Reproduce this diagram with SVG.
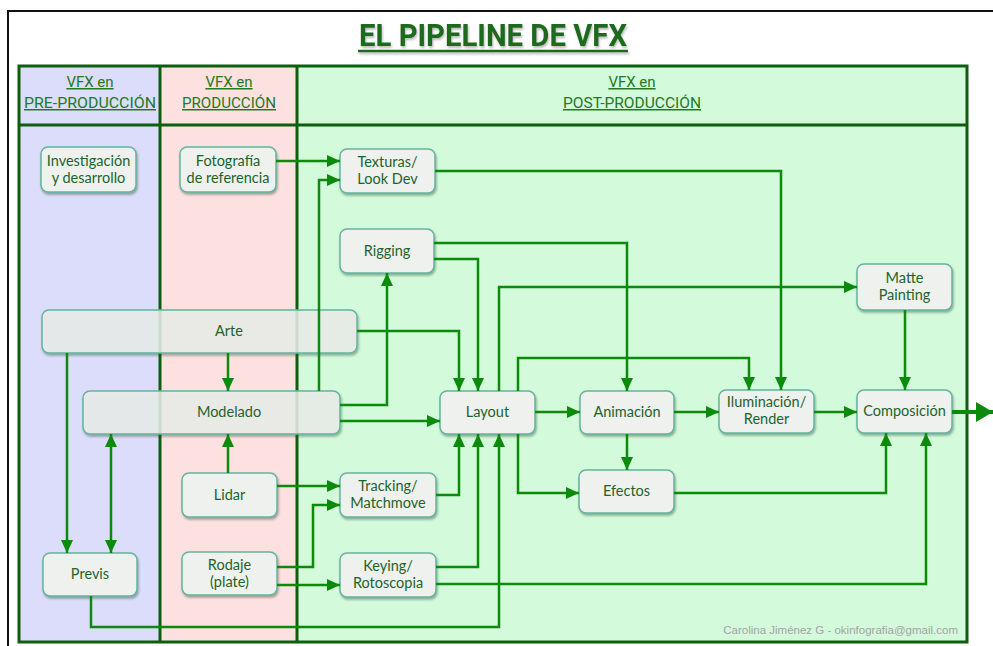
<svg xmlns="http://www.w3.org/2000/svg" width="993" height="646" viewBox="0 0 993 646">
<defs>
<style>
.node rect{fill:#eef1ee;stroke:#62b59c;stroke-width:1.5;filter:url(#sh)}
.node.tr rect{fill-opacity:0.82}
.node text{font-family:Lato,"Open Sans",sans-serif;font-size:14.5px;fill:#1d642b;text-anchor:middle}
.hd{font-family:"Liberation Sans Narrow","Roboto",sans-serif;font-size:15px;fill:#237a23;text-anchor:middle;text-decoration:underline}
#connectors path{fill:none;stroke:#0b8a0b;stroke-width:2.5;marker-end:url(#ah)}
.col{stroke:#0d5f0d;stroke-width:3}
</style>
<marker id="ah" markerUnits="userSpaceOnUse" markerWidth="14" markerHeight="12" refX="13" refY="6" orient="auto-start-reverse"><path d="M0,0 L13,6 L0,12 z" fill="#0b8a0b"/></marker>
<marker id="ahb" markerUnits="userSpaceOnUse" markerWidth="18" markerHeight="20" refX="17" refY="10" orient="auto"><path d="M0,0 L17,10 L0,20 z" fill="#0b8a0b"/></marker>
<filter id="sh" x="-10%" y="-10%" width="130%" height="140%"><feDropShadow dx="1" dy="2" stdDeviation="1.2" flood-color="#2a4a3a" flood-opacity="0.45"/></filter>
<filter id="tsh" x="-5%" y="-20%" width="110%" height="150%"><feDropShadow dx="1" dy="2" stdDeviation="1" flood-color="#777" flood-opacity="0.5"/></filter>
</defs>
<rect x="0" y="0" width="993" height="646" fill="#fff"/>
<rect x="8" y="11" width="1000" height="650" fill="#fff" stroke="#111" stroke-width="2"/>
<g id="title" filter="url(#tsh)">
<text x="493" y="46" font-family="'Liberation Sans Narrow',Roboto,sans-serif" font-weight="bold" font-size="31" fill="#1a6b1a" text-anchor="middle" textLength="268" lengthAdjust="spacingAndGlyphs">EL PIPELINE DE VFX</text>
<line x1="358" y1="51" x2="628" y2="51" stroke="#1a6b1a" stroke-width="2.5"/>
</g>
<g id="columns">
<rect x="19" y="66" width="141" height="576" fill="#dcdcfb"/>
<rect x="160" y="66" width="137" height="576" fill="#fde0e0"/>
<rect x="297" y="66" width="670" height="576" fill="#d3fadb"/>
<rect x="19" y="66" width="948" height="576" fill="none" class="col"/>
<line x1="19" y1="125" x2="967" y2="125" class="col"/>
<line x1="160" y1="66" x2="160" y2="642" class="col"/>
<line x1="297" y1="66" x2="297" y2="642" class="col"/>
<text class="hd" x="90" y="87">VFX en</text>
<text class="hd" x="90" y="108" textLength="132" lengthAdjust="spacingAndGlyphs">PRE-PRODUCCIÓN</text>
<text class="hd" x="229" y="87">VFX en</text>
<text class="hd" x="229" y="108" textLength="94" lengthAdjust="spacingAndGlyphs">PRODUCCIÓN</text>
<text class="hd" x="632" y="87">VFX en</text>
<text class="hd" x="632" y="108" textLength="138" lengthAdjust="spacingAndGlyphs">POST-PRODUCCIÓN</text>
</g>
<g id="investigacion" class="node"><rect x="41" y="147" width="95" height="45" rx="7"/><text x="88.5" y="166">Investigación<tspan x="88.5" dy="17">y desarrollo</tspan></text></g>
<g id="fotografia" class="node"><rect x="180" y="147" width="96" height="45" rx="7"/><text x="228" y="166">Fotografía<tspan x="228" dy="17">de referencia</tspan></text></g>
<g id="texturas" class="node"><rect x="340" y="149" width="95" height="44" rx="7"/><text x="387.5" y="167">Texturas/<tspan x="387.5" dy="17">Look Dev</tspan></text></g>
<g id="rigging" class="node"><rect x="340" y="229" width="94" height="44" rx="7"/><text x="387" y="256">Rigging</text></g>
<g id="arte" class="node tr"><rect x="42" y="310" width="315" height="43" rx="7"/><text x="229" y="336">Arte</text></g>
<g id="modelado" class="node tr"><rect x="83" y="391" width="257" height="43" rx="7"/><text x="229" y="417">Modelado</text></g>
<g id="layout" class="node"><rect x="440" y="391" width="95" height="43" rx="7"/><text x="487.5" y="417">Layout</text></g>
<g id="animacion" class="node"><rect x="580" y="391" width="94" height="43" rx="7"/><text x="627" y="417">Animación</text></g>
<g id="iluminacion" class="node"><rect x="719" y="390" width="95" height="43" rx="7"/><text x="766.5" y="407">Iluminación/<tspan x="766.5" dy="17">Render</tspan></text></g>
<g id="composicion" class="node"><rect x="857" y="390" width="95" height="43" rx="7"/><text x="904.5" y="416">Composición</text></g>
<g id="matte" class="node"><rect x="857" y="264" width="95" height="46" rx="7"/><text x="904.5" y="283">Matte<tspan x="904.5" dy="17">Painting</tspan></text></g>
<g id="efectos" class="node"><rect x="579" y="470" width="95" height="43" rx="7"/><text x="626.5" y="496">Efectos</text></g>
<g id="tracking" class="node"><rect x="340" y="473" width="96" height="44" rx="7"/><text x="388" y="491">Tracking/<tspan x="388" dy="17">Matchmove</tspan></text></g>
<g id="keying" class="node"><rect x="340" y="553" width="96" height="44" rx="7"/><text x="388" y="571">Keying/<tspan x="388" dy="17">Rotoscopia</tspan></text></g>
<g id="lidar" class="node"><rect x="182" y="473" width="95" height="44" rx="7"/><text x="229.5" y="500">Lidar</text></g>
<g id="rodaje" class="node"><rect x="182" y="552" width="95" height="43" rx="7"/><text x="229.5" y="570">Rodaje<tspan x="229.5" dy="17">(plate)</tspan></text></g>
<g id="previs" class="node"><rect x="43" y="553" width="94" height="43" rx="7"/><text x="90" y="579">Previs</text></g>
<g id="connectors">
<path d="M276,161 H340"/>
<path d="M319,391 V180 H340"/>
<path d="M340,405 H387 V273"/>
<path d="M340,421 H440"/>
<path d="M357,331 H459 V391"/>
<path d="M434,259 H478 V391"/>
<path d="M434,243 H627 V391"/>
<path d="M499,391 V287 H857"/>
<path d="M518,391 V358 H749 V390"/>
<path d="M435,171 H781 V390"/>
<path d="M905,310 V390"/>
<path d="M535,412 H580"/>
<path d="M674,412 H719"/>
<path d="M814,412 H857"/>
<path d="M952,412 H993" style="stroke-width:4;marker-end:url(#ahb)"/>
<path d="M627,434 V470"/>
<path d="M518,434 V493 H579"/>
<path d="M674,493 H886 V433"/>
<path d="M436,584 H926 V433"/>
<path d="M436,567 H478 V434"/>
<path d="M436,495 H459 V434"/>
<path d="M91,596 V627 H499 V434"/>
<path d="M277,486 H340"/>
<path d="M277,567 H313 V505 H340"/>
<path d="M277,585 H340"/>
<path d="M228,473 V434"/>
<path d="M228,353 V391"/>
<path d="M67,353 V553"/>
<path d="M111,434 V553" style="marker-start:url(#ah)"/>
</g>
<text x="958" y="634" font-family="'Liberation Sans',Arial,sans-serif" font-size="11.5" fill="#a3a3a3" text-anchor="end">Carolina Jiménez G - okinfografia@gmail.com</text>
</svg>
